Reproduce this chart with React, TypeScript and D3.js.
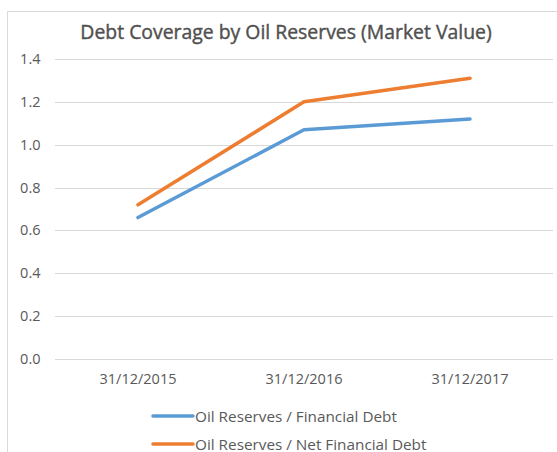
import React from "react";
import * as d3 from "d3";

const categories = ["31/12/2015", "31/12/2016", "31/12/2017"];
const financialDebt = [0.66, 1.07, 1.12];
const netFinancialDebt = [0.72, 1.2, 1.31];
const yTicks = [0, 0.2, 0.4, 0.6, 0.8, 1.0, 1.2, 1.4];
const seriesNames = ["Oil Reserves / Financial Debt", "Oil Reserves / Net Financial Debt"];
const colors = ["#5B9BD5", "#ED7D31"];
const title = "Debt Coverage by Oil Reserves (Market Value)";

export default function App() {
  const W = 557, H = 452;
  const left = 55, right = 553, top = 59, bottom = 359;
  const x = d3.scaleBand<string>().domain(categories).range([left, right]);
  const y = d3.scaleLinear().domain([0, 1.4]).range([bottom, top]);
  const line = d3
    .line<number>()
    .x((_, i) => (x(categories[i]) as number) + x.bandwidth() / 2)
    .y((d) => y(d));
  const series = [financialDebt, netFinancialDebt];
  const font = "'Open Sans', Lato, sans-serif";
  const textColor = "#595959";
  return (
    <svg
      width={W}
      height={H}
      style={{ position: "absolute", left: 0, top: 0, background: "#fff" }}
      fontFamily={font}
    >
      <rect x={0} y={0} width={W} height={H} fill="#fff" />
      <path d={`M7.5,${H} V11.5 H${W}`} fill="none" stroke="#d9d9d9" strokeWidth={1} />
      <text x={286} y={39} textAnchor="middle" fontSize={19.4} fill="#505050" stroke="#505050" strokeWidth={0.4}>
        {title}
      </text>
      {yTicks.map((t) => (
        <g key={t}>
          <line x1={left} x2={right} y1={Math.round(y(t)) + 0.5} y2={Math.round(y(t)) + 0.5} stroke="#d9d9d9" strokeWidth={1} />
          <text x={40.5} y={y(t) + 5} textAnchor="end" fontSize={14.5} fill={textColor}>
            {t.toFixed(1)}
          </text>
        </g>
      ))}
      {categories.map((c) => (
        <text key={c} x={(x(c) as number) + x.bandwidth() / 2} y={384} textAnchor="middle" fontSize={14.5} fill={textColor}>
          {c}
        </text>
      ))}
      {series.map((s, i) => (
        <path key={i} d={line(s) || ""} fill="none" stroke={colors[i]} strokeWidth={3.5} strokeLinejoin="round" strokeLinecap="round" />
      ))}
      {seriesNames.map((n, i) => (
        <g key={n}>
          <line x1={153} x2={193} y1={416 + i * 28} y2={416 + i * 28} stroke={colors[i]} strokeWidth={3.5} strokeLinecap="round" />
          <text x={195} y={421.5 + i * 28} fontSize={15.3} fill={textColor}>
            {n}
          </text>
        </g>
      ))}
    </svg>
  );
}
